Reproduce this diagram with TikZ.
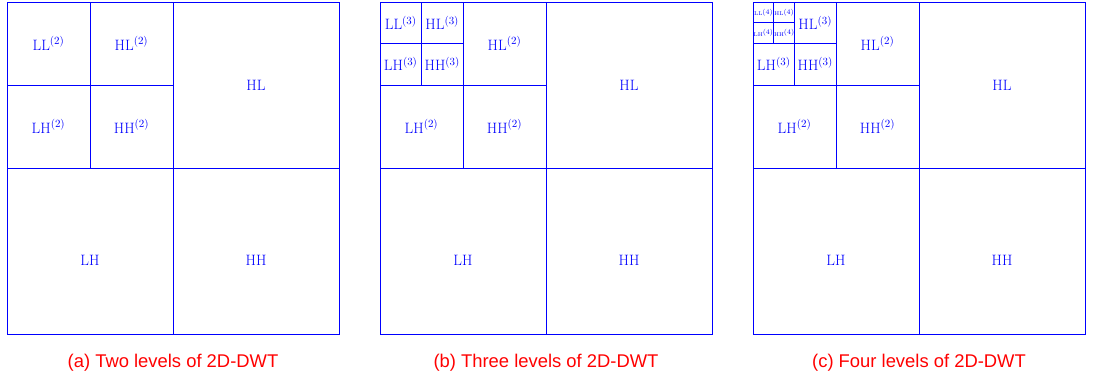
\documentclass[tikz,border=0pt]{standalone}
\usepackage{fontspec}
\usepackage{tikz}
\usepackage{xcolor}
\usetikzlibrary{positioning}
\newfontfamily\capfont{Liberation Sans}
\newcommand{\smallband}[1]{{\fontsize{5.5}{6}\selectfont #1}\raisebox{1.8pt}{\fontsize{7}{8}\selectfont(4)}}
\newcommand{\lowband}[1]{\raisebox{-9pt}[\height][\depth]{#1}}

\begin{document}
\begin{tikzpicture}[
        x=1pt, y=-1pt,
        band/.style={rectangle, draw=blue, text=blue, line width=0.8pt, inner sep=0pt, outer sep=0pt, minimum size=#1, font=\fontsize{15}{17}\selectfont},
        caption/.style={text=red, font=\capfont\fontsize{18.4}{20}\selectfont}
    ]
        \useasboundingbox (0,0) rectangle (1093,381);

        % Level 1 and level 2 bands, same in every panel
        \foreach \p/\x/\n in {a/7/Two, b/380/Three, c/753/Four}{
            \node[band=166pt, anchor=north east] (\p-hl) at (\x+332,2) {HL};
            \node[band=166pt, below=0pt of \p-hl] (\p-hh) {\lowband{HH}};
            \node[band=166pt, left=0pt of \p-hh] (\p-lh) {\lowband{LH}};
            \node[band=83pt, anchor=south east] (\p-hh2) at (\p-lh.north east) {HH$^{(2)}$};
            \node[band=83pt, above=0pt of \p-hh2] (\p-hl2) {HL$^{(2)}$};
            \node[band=83pt, left=0pt of \p-hh2] (\p-lh2) {LH$^{(2)}$};
            \node[caption] (\p-cap) at ([yshift=-29pt]\p-lh.south east) {(\p) \n\ levels of 2D-DWT};
        }

        % Panel (a)
        \node[band=83pt, left=0pt of a-hl2] (a-ll2) {LL$^{(2)}$};

        % Panel (b)
        \node[band=41.5pt, anchor=south east] (b-hh3) at (b-lh2.north east) {HH$^{(3)}$};
        \node[band=41.5pt, above=0pt of b-hh3] (b-hl3) {HL$^{(3)}$};
        \node[band=41.5pt, left=0pt of b-hh3] (b-lh3) {LH$^{(3)}$};
        \node[band=41.5pt, left=0pt of b-hl3] (b-ll3) {LL$^{(3)}$};

        % Panel (c)
        \node[band=41.5pt, anchor=south east] (c-hh3) at (c-lh2.north east) {HH$^{(3)}$};
        \node[band=41.5pt, above=0pt of c-hh3] (c-hl3) {HL$^{(3)}$};
        \node[band=41.5pt, left=0pt of c-hh3] (c-lh3) {LH$^{(3)}$};
        \node[band=20.75pt, anchor=south east] (c-hh4) at (c-lh3.north east) {\smallband{HH}};
        \node[band=20.75pt, above=0pt of c-hh4] (c-hl4) {\smallband{HL}};
        \node[band=20.75pt, left=0pt of c-hh4] (c-lh4) {\smallband{LH}};
        \node[band=20.75pt, left=0pt of c-hl4] (c-ll4) {\smallband{LL}};
    \end{tikzpicture}
\end{document}
